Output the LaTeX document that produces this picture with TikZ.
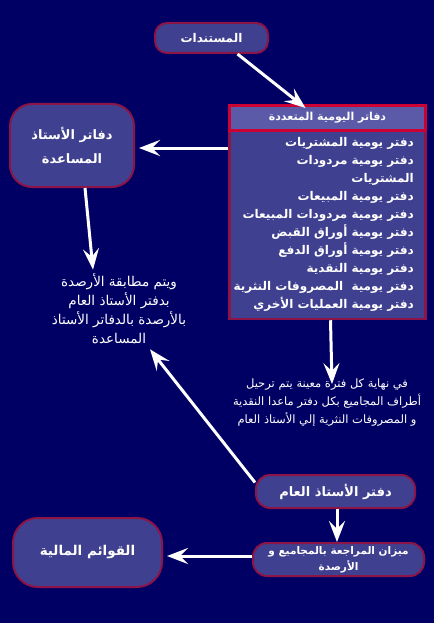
\documentclass[tikz,border=0pt]{standalone}
\usepackage{fontspec}
\newfontfamily\arabicfont[Script=Arabic]{DejaVu Sans}
\TeXXeTstate=1
\usetikzlibrary{arrows.meta}
\definecolor{bgnavy}{RGB}{0,0,100}
\definecolor{boxfill}{RGB}{64,64,144}
\definecolor{headfill}{RGB}{90,90,168}
\definecolor{boxred}{RGB}{204,0,51}
\definecolor{boxmaroon}{RGB}{140,20,70}
\newcommand{\rl}[1]{\beginR #1\endR}

\begin{document}
\begin{tikzpicture}[x=1pt,y=-1pt,font=\arabicfont\bfseries\fontsize{12}{18}\selectfont,
    box/.style={draw=boxmaroon,line width=2pt,fill=boxfill,text=white,inner sep=0pt,align=center,rounded corners=12pt},
    note/.style={text=white,inner sep=0pt,align=center,font=\arabicfont\fontsize{13.5}{19}\selectfont},
    arr/.style={draw=white,line width=3pt,-{Stealth[length=21pt,width=16pt,inset=8pt]}}]
            \useasboundingbox (0,0) rectangle (434,623);
            \fill [bgnavy] (0,0) rectangle (434,623);
            \node [box,minimum width=113pt,minimum height=30pt] (docs) at (211.5,38) {\rl{المستندات}};%
            \node [box,minimum width=124pt,minimum height=83pt,rounded corners=22pt,font=\arabicfont\bfseries\fontsize{13}{24}\selectfont] (subl) at (72,145.5) {\rl{دفاتر الأستاذ}\\\rl{المساعدة}};%
            \node [draw=boxmaroon,line width=2.5pt,fill=boxfill,minimum width=196pt,minimum height=188pt] (multi) at (327.5,225) {};%
            \node [draw=boxred,line width=3pt,fill=headfill,text=white,minimum width=196pt,minimum height=25pt,inner sep=0pt,font=\arabicfont\bfseries\fontsize{11}{18}\selectfont] (head) at (327.5,118) {\rl{دفاتر اليومية المتعددة}};%
            \node [text=white,align=right,inner sep=0pt,anchor=east] (list) at (414,224) {\rl{دفتر يومية المشتريات}\\\rl{دفتر يومية مردودات}\\\rl{المشتريات}\\\rl{دفتر يومية المبيعات}\\\rl{دفتر يومية مردودات المبيعات}\\\rl{دفتر يومية أوراق القبض}\\\rl{دفتر يومية أوراق الدفع}\\\rl{دفتر يومية النقدية}\\\rl{دفتر يومية \ المصروفات النثرية}\\\rl{دفتر يومية العمليات الأخري}};%
            \node [note] (match) at (119,309) {\rl{ويتم مطابقة الأرصدة}\\\rl{بدفتر الأستاذ العام}\\\rl{بالأرصدة بالدفاتر الأستاذ}\\\rl{المساعدة}};%
            \node [note,font=\arabicfont\fontsize{11.5}{18}\selectfont] (period) at (327,403) {\rl{في نهاية كل فترة معينة يتم ترحيل}\\\rl{أطراف المجاميع بكل دفتر ماعدا النقدية}\\\rl{و المصروفات النثرية إلي الأستاذ العام}};%
            \node [box,minimum width=159pt,minimum height=33pt,rounded corners=14pt,font=\arabicfont\bfseries\fontsize{13}{18}\selectfont] (general) at (335.5,491.5) {\rl{دفتر الأستاذ العام}};%
            \node [box,minimum width=171pt,minimum height=33pt,rounded corners=14pt,font=\arabicfont\bfseries\fontsize{10.5}{16}\selectfont] (trial) at (338.5,559.5) {\rl{ميزان المراجعة بالمجاميع و}\\\rl{الأرصدة}};%
            \node [box,minimum width=149pt,minimum height=69pt,rounded corners=25pt,font=\arabicfont\bfseries\fontsize{13.5}{18}\selectfont] (final) at (87.5,552.5) {\rl{القوائم المالية}};%
            \draw [arr] ([xshift=26pt]docs.south) to ([xshift=-22pt,yshift=-4pt]head.north);
            \draw [arr] ([yshift=-2.5pt]multi.west |- subl.east) to ([xshift=4pt,yshift=-2.5pt]subl.east);
            \draw [arr] ([xshift=13pt]subl.south) to ([xshift=-26pt,yshift=4pt]match.north);
            \draw [arr] ([xshift=3pt]multi.south) to ([xshift=5pt,yshift=-5pt]period.north);
            \draw [arr] ([yshift=9pt]general.west) to ([xshift=31pt,yshift=-5pt]match.south);
            \draw [arr] ([xshift=1.5pt]general.south) to ([xshift=-1.5pt]trial.north);
            \draw [arr] ([yshift=3.5pt]trial.west) to ([xshift=4pt,yshift=3.5pt]trial.west -| final.east);
        \end{tikzpicture}
\end{document}
